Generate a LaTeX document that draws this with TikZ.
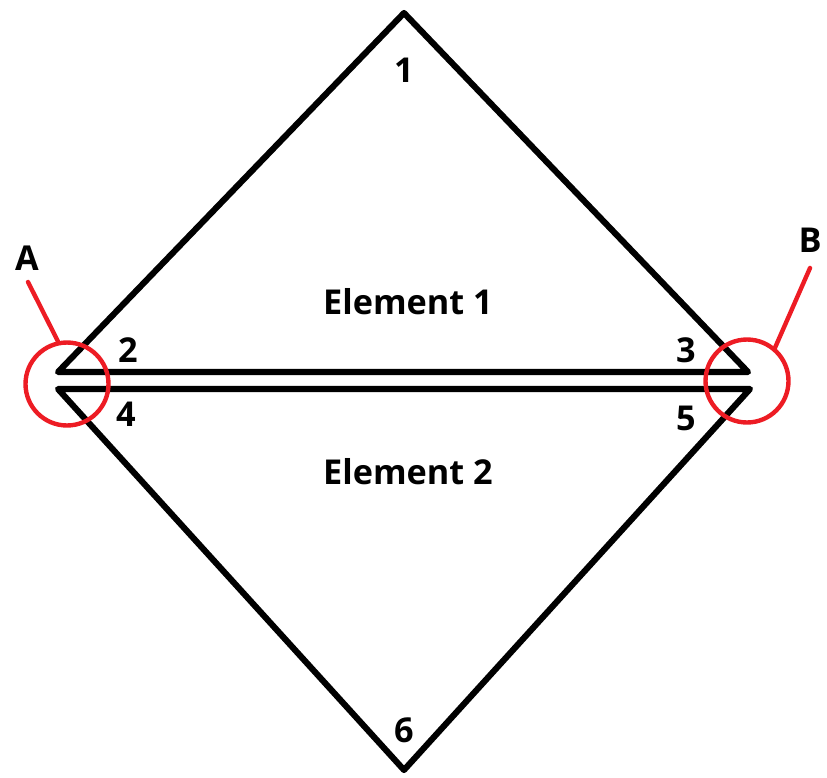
\documentclass[tikz,border=0pt]{standalone}
\usepackage{fontspec}
\setmainfont{Open Sans}
\usetikzlibrary{positioning}
\definecolor{markred}{HTML}{ED1C24}
\tikzset{
  edge/.style={line width=3.5pt, line join=round, line cap=round},
  lbl/.style={font=\bfseries\fontsize{19.5}{22}\selectfont, inner sep=0pt},
  ring/.style={circle, draw=markred, line width=2.5pt, minimum size=1.66cm, inner sep=0pt},
  pointer/.style={draw=markred, line width=2.5pt, line cap=round}
}

\begin{document}
\begin{tikzpicture}[x=0.02cm, y=-0.02cm]
  \useasboundingbox (0,0) rectangle (827,777);
  % corners
  \coordinate (p1) at (404,13);
  \coordinate (p2) at (58,372);
  \coordinate (p3) at (748,372);
  \coordinate (p4) at (58,389);
  \coordinate (p5) at (750,389);
  \coordinate (p6) at (404,770);
  % elements
  \draw[edge] (p1) -- (p2) -- (p3) -- cycle;
  \draw[edge] (p4) -- (p5) -- (p6) -- cycle;
  % node numbers
  \node[lbl] (n1) at (404,70) {1};
  \node[lbl] (n2) at (128,350) {2};
  \node[lbl] (n3) at (686,350) {3};
  \node[lbl] (n4) at (126,414) {4};
  \node[lbl] (n5) at (686,418) {5};
  \node[lbl] (n6) at (404,730) {6};
  \node[lbl] (e1) at (408,302) {Element 1};
  \node[lbl] (e2) at (408,472) {Element 2};
  % marked joints
  \node[ring] (ringA) at (67,384) {};
  \node[ring] (ringB) at (747,381) {};
  \coordinate (tipA) at (28,282);
  \coordinate (tipB) at (810,268);
  \draw[pointer] (ringA.102) -- (tipA);
  \draw[pointer] (ringB.50) -- (tipB);
  \node[lbl] (labA) at (27,258) {A};
  \node[lbl] (labB) at (810,240) {B};
\end{tikzpicture}
\end{document}
